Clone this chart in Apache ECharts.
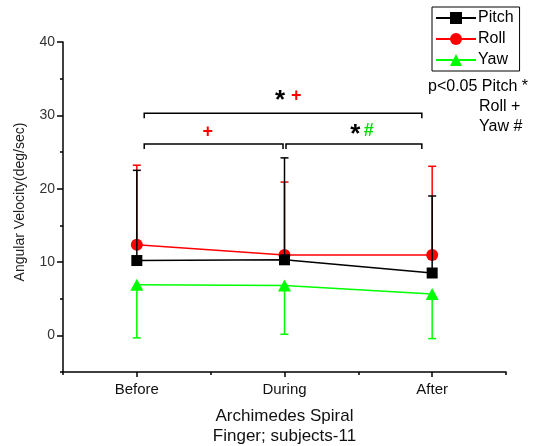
<!DOCTYPE html>
<html>
<head>
<meta charset="utf-8">
<script src="https://cdn.jsdelivr.net/npm/echarts@6/dist/echarts.min.js"></script>
<style>
  html, body { margin: 0; padding: 0; background: #fff; }
  #main { width: 535px; height: 446px; }
</style>
</head>
<body>
<div id="main"></div>
<script>
// categories sit at x = 1, 2, 3 on a value axis
var categories = ['Before', 'During', 'After'];
var catPos = [1, 2, 3];

var pitchMean = [10.2, 10.3, 8.5];
var pitchUpper = [22.5, 24.2, 19.0];
var rollMean = [12.35, 10.95, 10.95];
var rollUpper = [23.2, 20.9, 23.05];
var yawMean = [6.9, 6.8, 5.65];
var yawLower = [-0.35, 0.15, -0.45];

var yMajorTicks = [0, 10, 20, 30, 40];
var yMinorTicks = [-5, 5, 15, 25, 35];
var xMinorTicks = [0.5, 1.5, 2.5, 3.5];

// significance brackets: [from, to, level]
var brackets = [[1.05, 2.93, 30.3], [1.05, 1.99, 26.1], [2.01, 2.93, 26.1]];
var sigMarks = [
  { x: 1.97, y: 32.0, text: '*', color: '#000' },
  { x: 2.08, y: 32.6, text: '+', color: '#ff0000' },
  { x: 1.48, y: 27.7, text: '+', color: '#ff0000' },
  { x: 2.48, y: 27.3, text: '*', color: '#000' },
  { x: 2.57, y: 27.9, text: '#', color: '#00dd00' }
];

function pts(means) {
  return catPos.map(function (x, i) { return [x, means[i]]; });
}
function bars(means, ends) {
  return catPos.map(function (x, i) { return [x, means[i], ends[i]]; });
}

function errRender(color) {
  return function (params, api) {
    var p0 = api.coord([api.value(0), api.value(1)]);
    var p1 = api.coord([api.value(0), api.value(2)]);
    var half = 4;
    return {
      type: 'group',
      children: [
        { type: 'line', shape: { x1: p0[0], y1: p0[1], x2: p1[0], y2: p1[1] }, style: { stroke: color, lineWidth: 1.5 } },
        { type: 'line', shape: { x1: p1[0] - half, y1: p1[1], x2: p1[0] + half, y2: p1[1] }, style: { stroke: color, lineWidth: 1.5 } }
      ]
    };
  };
}

var myChart = echarts.init(document.getElementById('main'));
var font = 'Arial, "Liberation Sans", sans-serif';

var option = {
  animation: false,
  backgroundColor: '#fff',
  textStyle: { fontFamily: font },
  grid: { left: 63, right: 29, top: 42, bottom: 74, outerBoundsMode: 'none', containLabel: false },
  legend: {
    data: ['Pitch', 'Roll', 'Yaw'],
    orient: 'vertical',
    left: 432,
    top: 7,
    itemWidth: 40,
    itemHeight: 15,
    itemGap: 5,
    padding: [3, 6, 3, 3],
    borderColor: '#000',
    borderWidth: 1,
    textStyle: { fontSize: 16, color: '#000', fontFamily: font, padding: [0, 0, 0, -3] }
  },
  xAxis: [{
    type: 'value',
    min: 0.5,
    max: 3.5,
    splitLine: { show: false },
    axisLine: { onZero: false, lineStyle: { color: '#000', width: 1.5 } },
    axisTick: { customValues: catPos, length: 5, lineStyle: { color: '#000', width: 1.5 } },
    axisLabel: {
      customValues: catPos,
      fontSize: 15,
      color: '#111',
      margin: 10,
      formatter: function (v) { return categories[Math.round(v) - 1]; }
    },
    name: 'Archimedes Spiral\nFinger; subjects-11',
    nameLocation: 'middle',
    nameGap: 34,
    nameTextStyle: { fontSize: 17, color: '#111', lineHeight: 20 }
  }, {
    type: 'value',
    min: 0.5,
    max: 3.5,
    position: 'bottom',
    splitLine: { show: false },
    axisLine: { show: false, onZero: false },
    axisTick: { customValues: xMinorTicks, length: 3, lineStyle: { color: '#000', width: 1.5 } },
    axisLabel: { show: false }
  }],
  yAxis: [{
    type: 'value',
    min: -5,
    max: 40,
    splitLine: { show: false },
    axisLine: { onZero: false, lineStyle: { color: '#000', width: 1.5 } },
    axisTick: { customValues: yMajorTicks, length: 6, lineStyle: { color: '#000', width: 1.5 } },
    axisLabel: { customValues: yMajorTicks, fontSize: 14, color: '#333', margin: 8 },
    name: 'Angular Velocity(deg/sec)',
    nameLocation: 'middle',
    nameGap: 36,
    nameTextStyle: { fontSize: 14, color: '#222', padding: [0, 0, 0, 10] }
  }, {
    type: 'value',
    min: -5,
    max: 40,
    position: 'left',
    splitLine: { show: false },
    axisLine: { show: false, onZero: false },
    axisTick: { customValues: yMinorTicks, length: 3, lineStyle: { color: '#000', width: 1.5 } },
    axisLabel: { show: false }
  }],
  series: [
    {
      name: 'Roll', type: 'line', data: pts(rollMean), z: 2,
      symbol: 'circle', symbolSize: 12,
      lineStyle: { color: '#ff0000', width: 1.5 }, itemStyle: { color: '#ff0000' }
    },
    {
      name: 'Yaw', type: 'line', data: pts(yawMean), z: 2,
      symbol: 'triangle', symbolSize: [13, 12],
      lineStyle: { color: '#00ff00', width: 1.5 }, itemStyle: { color: '#00ff00' }
    },
    {
      type: 'custom', data: bars(rollMean, rollUpper), z: 3,
      renderItem: errRender('#ff0000')
    },
    {
      type: 'custom', data: bars(pitchMean, pitchUpper), z: 4,
      renderItem: errRender('#000')
    },
    {
      type: 'custom', data: bars(yawMean, yawLower), z: 1,
      renderItem: errRender('#00ff00')
    },
    {
      name: 'Pitch', type: 'line', data: pts(pitchMean), z: 5,
      symbol: 'rect', symbolSize: 11,
      lineStyle: { color: '#000', width: 1.5 }, itemStyle: { color: '#000' }
    },
    {
      type: 'custom', data: brackets, z: 6, silent: true,
      renderItem: function (params, api) {
        var a = api.coord([api.value(0), api.value(2)]);
        var b = api.coord([api.value(1), api.value(2)]);
        var drop = 5;
        return {
          type: 'polyline',
          shape: { points: [[a[0], a[1] + drop], a, b, [b[0], b[1] + drop]] },
          style: { stroke: '#000', lineWidth: 1.5, fill: null }
        };
      }
    },
    {
      type: 'custom', data: sigMarks.map(function (m) { return [m.x, m.y]; }), z: 6, silent: true,
      renderItem: function (params, api) {
        var m = sigMarks[params.dataIndex];
        var p = api.coord([api.value(0), api.value(1)]);
        var star = m.text === '*';
        return {
          type: 'text',
          style: {
            x: p[0], y: p[1], text: m.text,
            fill: m.color,
            font: (star ? 'bold 26px ' : 'bold 18px ') + font,
            align: 'center', verticalAlign: 'middle'
          }
        };
      }
    }
  ],
  graphic: [
    { type: 'text', left: 428, top: 79, style: { text: 'p<0.05 Pitch *', fill: '#000', font: '16px ' + font } },
    { type: 'text', left: 479, top: 99, style: { text: 'Roll +', fill: '#000', font: '16px ' + font } },
    { type: 'text', left: 479, top: 119, style: { text: 'Yaw #', fill: '#000', font: '16px ' + font } }
  ]
};
myChart.setOption(option);
</script>
</body>
</html>
